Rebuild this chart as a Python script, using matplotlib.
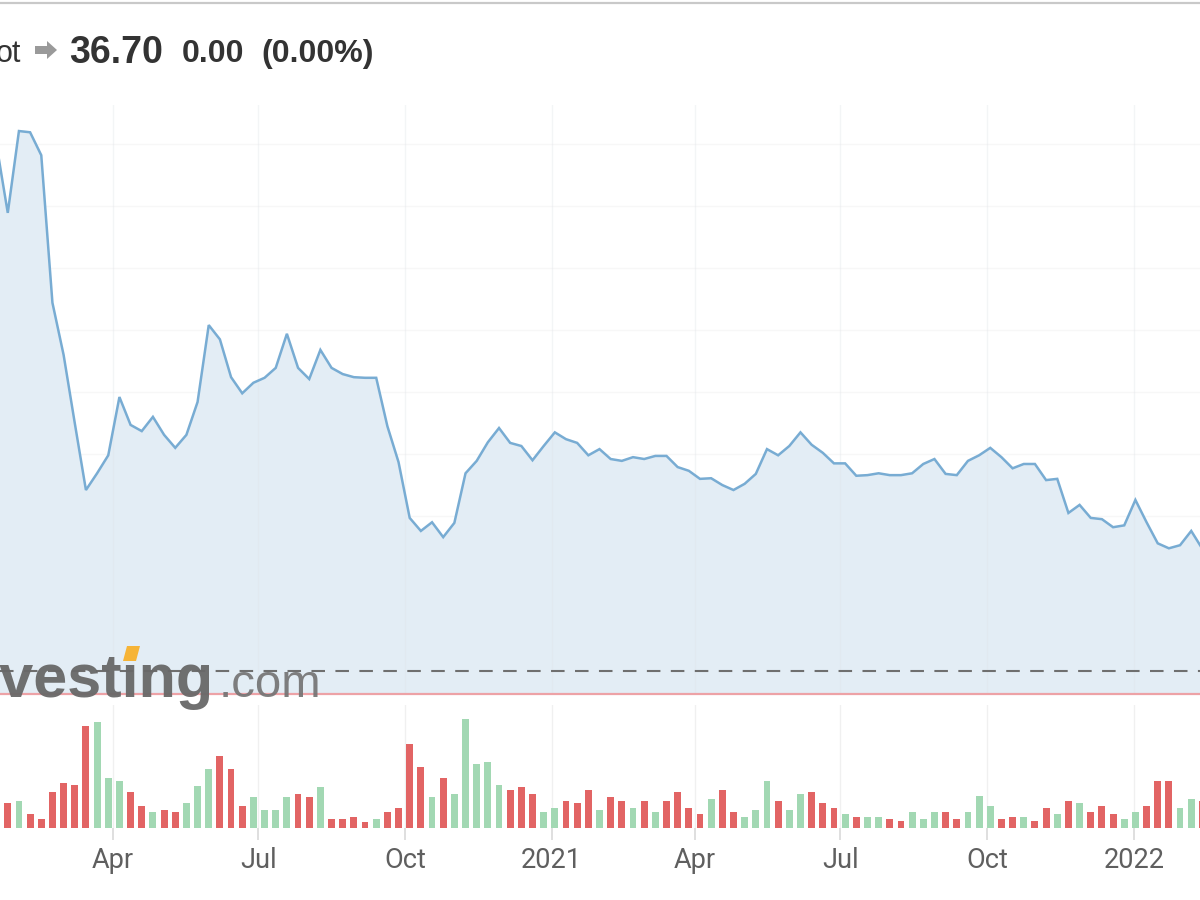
import numpy as np
import pandas as pd
import matplotlib
matplotlib.use("Agg")
import matplotlib.pyplot as plt
import matplotlib.dates as mdates
from matplotlib.patches import Polygon
from matplotlib.lines import Line2D

# ---------------- data ----------------
first_week = "2020-01-19"
closes = [
    99.8,
    88.9, 102.1, 101.9, 98.2, 74.4, 66.0, 55.0, 44.2, 46.9, 49.8,
    59.2, 54.7, 53.7, 56.0, 53.1, 51.0, 53.1, 58.4, 70.8, 68.5,
    62.4, 59.8, 61.5, 62.3, 63.9, 69.4, 63.9, 62.1, 66.8, 63.9,
    62.9, 62.4, 62.3, 62.3, 54.5, 48.7, 39.7, 37.6, 39.0, 36.6,
    38.9, 46.9, 48.9, 51.9, 54.2, 51.8, 51.3, 49.0, 51.3, 53.5,
    52.4, 51.8, 49.8, 50.8, 49.2, 48.9, 49.5, 49.2, 49.7, 49.7,
    47.9, 47.3, 46.0, 46.1, 45.0, 44.2, 45.2, 46.8, 50.8, 49.8,
    51.3, 53.5, 51.5, 50.2, 48.5, 48.5, 46.5, 46.6, 46.9, 46.6,
    46.6, 46.9, 48.4, 49.2, 46.8, 46.6, 48.9, 49.8, 51.0, 49.5,
    47.7, 48.4, 48.4, 45.8, 46.0, 40.5, 41.8, 39.7, 39.5, 38.2,
    38.5, 42.6, 39.0, 35.6, 34.8, 35.3, 37.6, 34.7,
]
volumes = [
    25, 27, 14, 9, 36, 45, 43, 102, 106, 50,
    47, 36, 22, 16, 18, 16, 25, 42, 59, 72,
    59, 22, 31, 18, 18, 31, 34, 31, 41, 9,
    9, 11, 6, 9, 16, 20, 84, 61, 31, 50,
    34, 109, 64, 66, 43, 38, 41, 34, 16, 20,
    27, 25, 38, 18, 31, 27, 20, 27, 16, 27,
    36, 20, 14, 29, 38, 16, 11, 18, 47, 27,
    18, 34, 36, 25, 20, 14, 11, 11, 11, 9,
    7, 16, 9, 16, 16, 9, 16, 32, 22, 9,
    11, 11, 7, 20, 14, 27, 25, 16, 22, 14,
    9, 16, 22, 47, 47, 20, 29, 27,
]
vol_dir = ("RGRRRRRRGG" "GRRGRRGGGR" "RRGGGGRRGR" "RRRGRRRRGR" "GGGGGRRRGG"
           "RRRGRRGRGR" "RRRGRRGGGR" "GGRRRGRGGR" "RGGGRRGGGR" "RGRRGRGRRR"
           "GGRRRGGR")
prev_close_level = 15.0
tick_dates = ["2020-01-01", "2020-04-01", "2020-07-01", "2020-10-01", "2021-01-01",
              "2021-04-01", "2021-07-01", "2021-10-01", "2022-01-01"]
tick_labels = ["2020", "Apr", "Jul", "Oct", "2021", "Apr", "Jul", "Oct", "2022"]
header_name = "ot"
last_price = "36.70"
change = "0.00"
change_pct = "(0.00%)"

# ---------------- derived ----------------
dates = pd.date_range(first_week, periods=len(closes), freq="7D")
vol_dates = dates[1:]
ticks = pd.to_datetime(tick_dates)

W, H = 1200, 900
def fx(px):
    return px / W
def fy(py):
    return 1 - py / H

RED = "#e26464"
GREEN = "#a2d8b3"
LINE = "#78acd3"
FILL = "#e3edf5"

fig = plt.figure(figsize=(12, 9), dpi=100, facecolor="white")

# price pane: pixel rows 105..694
ax = fig.add_axes([0, fy(694), 1, (694 - 105) / H])
# volume pane: pixel rows 705..828
axv = fig.add_axes([0, fy(828), 1, (828 - 705) / H], sharex=ax)

xlim = (mdates.date2num(pd.Timestamp("2020-01-21 03:00")),
        mdates.date2num(pd.Timestamp("2022-02-11 12:00")))
ymin, ymax = 11.3, 106.3

# horizontal, very faint gridlines (under fill)
for v in range(20, 110, 10):
    ax.axhline(v, color="#f7f7f7", lw=1.0, zorder=0)

ax.fill_between(dates, closes, ymin, color=FILL, lw=0, zorder=1)
for t in ticks:
    ax.axvline(t, color="#dfe3e8", alpha=0.35, lw=1.0, zorder=2)
ax.plot(dates, closes, color=LINE, lw=1.8, zorder=4, solid_joinstyle="miter")
dl, = ax.plot(xlim, [prev_close_level, prev_close_level], color="#6f6f6f",
              lw=1.5, zorder=3)
dl.set_dashes((6.5, 5))

ax.set_xlim(*xlim)
ax.set_ylim(ymin, ymax)
for s in ["top", "left", "right"]:
    ax.spines[s].set_visible(False)
ax.spines["bottom"].set_color("#eda2a6")
ax.spines["bottom"].set_linewidth(1.6)
ax.spines["bottom"].set_zorder(5)
ax.set_yticks([])
ax.tick_params(axis="x", which="both", bottom=False, labelbottom=False)
ax.set_facecolor("white")

# volume bars
colors = [GREEN if c == "G" else RED for c in vol_dir]
for t in ticks:
    axv.axvline(t, color="#f0f0f0", lw=1.0, zorder=0)
axv.bar(vol_dates, volumes, width=4.3, color=colors, lw=0, zorder=2)
axv.set_ylim(0, 123)
axv.set_yticks([])
for s in axv.spines.values():
    s.set_visible(False)
axv.set_xticks(ticks)
axv.set_xticklabels(tick_labels)
axv.tick_params(axis="x", direction="out", length=8.6, width=1.3, color="#dcdcdc",
                labelsize=19.5, labelcolor="#5f5f5f", pad=5)
for lab in axv.get_xticklabels():
    lab.set_fontfamily("Roboto")
axv.set_xlim(*xlim)

# top border line
fig.add_artist(Line2D([0, 1], [fy(3), fy(3)], transform=fig.transFigure,
                      color="#c9c9c9", lw=1.6))

# header
hfam = "Liberation Sans"
fig.text(fx(-4), fy(62), header_name, fontsize=22, family=hfam, color="#333333",
         va="baseline", ha="left")
arrow_px = [(35, 46), (47, 46), (47, 41), (57, 50), (47, 59), (47, 54), (35, 54)]
fig.add_artist(Polygon([[fx(px), fy(py)] for px, py in arrow_px], closed=True,
                       transform=fig.transFigure, facecolor="#9a9a9a",
                       edgecolor="none"))
fig.text(fx(69), fy(63), last_price, fontsize=27, family=hfam, fontweight="bold",
         color="#333333", va="baseline", ha="left")
fig.text(fx(182), fy(62), change, fontsize=23, family=hfam, fontweight="bold",
         color="#333333", va="baseline", ha="left")
fig.text(fx(261), fy(62), change_pct, fontsize=23, family=hfam, fontweight="bold",
         color="#333333", va="baseline", ha="left")

# watermark
fig.text(fx(-54), fy(697), "Investing", fontsize=44, family=hfam, fontweight="bold",
         color="#686868", alpha=0.95, va="baseline", ha="left", zorder=10)
fig.text(fx(219), fy(697), ".com", fontsize=34, family=hfam,
         color="#747474", alpha=0.92, va="baseline", ha="left", zorder=10)
fig.add_artist(Polygon([[fx(123), fy(661)], [fx(136), fy(661)], [fx(140), fy(646)],
                        [fx(127), fy(646)]], closed=True, transform=fig.transFigure,
                       facecolor="#f6b437", edgecolor="none", zorder=11))

fig.savefig("out.png", dpi=100, facecolor="white")
